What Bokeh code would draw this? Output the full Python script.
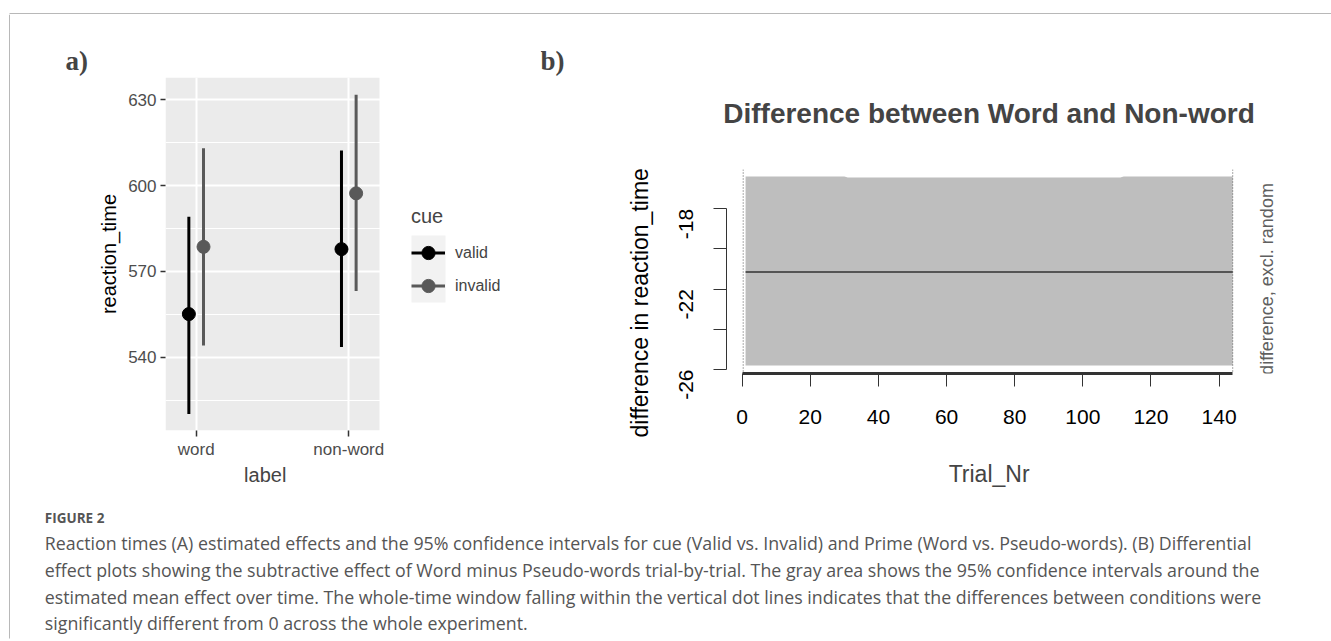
import math
from bokeh.plotting import figure
from bokeh.models import (Range1d, FixedTicker, Label, Legend, LegendItem, Span, Title,
                          BoxAnnotation, ColumnDataSource)
from bokeh.layouts import row, column
from bokeh.embed import file_html
from bokeh.resources import INLINE

# ---------------- data: panel a ----------------
labels = ["word", "non-word"]
cues = ["valid", "invalid"]
valid_rt = [555.1, 577.8]
valid_lo = [520.2, 543.6]
valid_hi = [589.1, 612.3]
invalid_rt = [578.6, 597.3]
invalid_lo = [544.1, 563.2]
invalid_hi = [613.1, 631.8]
rt_ticks = [540, 570, 600, 630]
rt_minor = [525, 555, 585, 615]

# ---------------- data: panel b ----------------
trial_nr = [1, 30, 31, 111, 112, 144]
diff_upper = [-16.39, -16.39, -16.44, -16.44, -16.39, -16.39]
diff_lower = [-25.80, -25.80, -25.80, -25.80, -25.80, -25.80]
diff_mean = [-21.15, -21.15, -21.15, -21.15, -21.15, -21.15]
sig_bounds = [0.3, 144.0]
trial_ticks = [0, 20, 40, 60, 80, 100, 120, 140]
diff_ticks = [-26, -22, -18]
diff_minor = [-24, -20]
diff_tick_text = {-26: "-26", -22: "-22", -18: "-18"}

caption_head = "FIGURE 2"
caption_lines = [
    "Reaction times (A) estimated effects and the 95% confidence intervals for cue (Valid vs. Invalid) and Prime (Word vs. Pseudo-words). (B) Differential",
    "effect plots showing the subtractive effect of Word minus Pseudo-words trial-by-trial. The gray area shows the 95% confidence intervals around the",
    "estimated mean effect over time. The whole-time window falling within the vertical dot lines indicates that the differences between conditions were",
    "significantly different from 0 across the whole experiment.",
]

SANS = "Liberation Sans"
SERIF = "Liberation Serif"


def lift(fs):
    # correction for where the renderer puts the text baseline
    return 0.36 * fs


def no_align(f):
    if "frame_align" in f.properties():
        f.frame_align = False
    return f


def blank(width, height, xr, yr):
    f = figure(width=width, height=height, x_range=xr, y_range=yr, output_backend="svg",
               toolbar_location=None, min_border=0, x_axis_type=None, y_axis_type=None)
    f.outline_line_color = None
    f.grid.visible = False
    return no_align(f)


# ---------------- panel a ----------------
cat_x = [i + 1 for i in range(len(labels))]          # category positions
dodge_w = 0.048
valid_x = [c - dodge_w for c in cat_x]
invalid_x = [c + dodge_w for c in cat_x]
PANEL_A_X = (0.799, 2.201)                            # ggplot panel extent (expanded)
PANEL_A_Y = (514.4, 637.8)

fah = blank(530, 63, Range1d(0, 530), Range1d(0, 63))
fah.add_layout(Label(x=55, y=7 + lift(27), x_units="screen", y_units="screen", text="a)",
                     text_font=SERIF, text_font_style="bold", text_font_size="27px",
                     text_baseline="alphabetic"))

fa = figure(width=530, height=385, x_range=Range1d(PANEL_A_X[0], 3.256),
            y_range=Range1d(*PANEL_A_Y), output_backend="svg", toolbar_location=None,
            min_border_left=155, min_border_right=0, min_border_top=0, min_border_bottom=32)
no_align(fa)
fa.background_fill_color = "white"
fa.border_fill_color = "white"
fa.outline_line_color = None
fa.add_layout(BoxAnnotation(left=PANEL_A_X[0], right=PANEL_A_X[1], bottom=PANEL_A_Y[0],
                            top=PANEL_A_Y[1], fill_color="#ebebeb", fill_alpha=1,
                            line_color=None, level="image"))

src_v = ColumnDataSource(dict(x=valid_x, rt=valid_rt, lo=valid_lo, hi=valid_hi))
src_i = ColumnDataSource(dict(x=invalid_x, rt=invalid_rt, lo=invalid_lo, hi=invalid_hi))
seg_v = fa.segment(x0="x", y0="lo", x1="x", y1="hi", source=src_v, line_color="black", line_width=3)
pt_v = fa.scatter(x="x", y="rt", source=src_v, size=13, fill_color="black", line_color="black")
seg_i = fa.segment(x0="x", y0="lo", x1="x", y1="hi", source=src_i, line_color="#595959", line_width=3)
pt_i = fa.scatter(x="x", y="rt", source=src_i, size=13, fill_color="#595959", line_color="#595959")

fa.ygrid.ticker = FixedTicker(ticks=rt_ticks, minor_ticks=rt_minor)
fa.ygrid.grid_line_color = "white"
fa.ygrid.grid_line_width = 2
fa.ygrid.minor_grid_line_color = "white"
fa.ygrid.minor_grid_line_width = 1
fa.xgrid.ticker = FixedTicker(ticks=cat_x)
fa.xgrid.grid_line_color = "white"
fa.xgrid.grid_line_width = 2

fa.yaxis.ticker = FixedTicker(ticks=rt_ticks)
fa.xaxis.ticker = FixedTicker(ticks=cat_x)
fa.xaxis.major_label_overrides = {c: lab for c, lab in zip(cat_x, labels)}
for ax in (fa.xaxis[0], fa.yaxis[0]):
    ax.axis_line_color = None
    ax.major_tick_line_color = "#333333"
    ax.major_tick_line_width = 1.5
    ax.major_tick_in = 0
    ax.minor_tick_line_color = None
    ax.major_label_text_font = SANS
    ax.major_label_text_font_size = "17px"
    ax.major_label_text_color = "#4d4d4d"
    ax.axis_label_text_font = SANS
    ax.axis_label_text_font_size = "20px"
    ax.axis_label_text_font_style = "normal"
    ax.axis_label_text_color = "black"
fa.yaxis.major_tick_out = 5
fa.yaxis.major_label_standoff = 4
fa.yaxis.axis_label = "reaction_time"
fa.yaxis.axis_label_standoff = 5
fa.xaxis.major_tick_out = 6
fa.xaxis.major_label_standoff = 3

fa.add_layout(BoxAnnotation(left=246, right=280, bottom=128, top=195,
                            left_units="screen", right_units="screen",
                            bottom_units="screen", top_units="screen",
                            fill_color="#f2f2f2", fill_alpha=1, line_color=None, level="glyph"))

legend = Legend(items=[LegendItem(label=cues[0], renderers=[seg_v, pt_v]),
                       LegendItem(label=cues[1], renderers=[seg_i, pt_i])],
                title="cue", location=(246, 128))
legend.title_text_font = SANS
legend.title_text_font_size = "20px"
legend.title_text_font_style = "normal"
legend.title_standoff = 8
legend.label_text_font = SANS
legend.label_text_font_size = "16px"
legend.glyph_width = 34
legend.glyph_height = 33
legend.label_height = 33
legend.label_standoff = 10
legend.spacing = 0
legend.padding = 0
legend.margin = 0
legend.background_fill_alpha = 0
legend.border_line_color = None
fa.add_layout(legend)

fal = blank(530, 38, Range1d(0, 530), Range1d(0, 38))
fal.add_layout(Label(x=254.7, y=18.3 + lift(20), x_units="screen", y_units="screen", text="label",
                     text_font=SANS, text_font_size="20px", text_align="center",
                     text_baseline="alphabetic"))

# ---------------- panel b header (panel letter and title) ----------------
fbh = blank(791, 140, Range1d(0, 791), Range1d(0, 140))
fbh.add_layout(Label(x=0, y=84 + lift(27), x_units="screen", y_units="screen", text="b)",
                     text_font=SERIF, text_font_style="bold", text_font_size="27px",
                     text_baseline="alphabetic"))
fbh.add_layout(Label(x=448.5, y=30.7 + lift(28), x_units="screen", y_units="screen",
                     text="Difference between Word and Non-word", text_font=SANS,
                     text_font_style="bold", text_font_size="28px", text_align="center",
                     text_baseline="alphabetic"))

# ---------------- panel b ----------------
fb = figure(width=791, height=296, x_range=Range1d(-4.6, 173.0), y_range=Range1d(-26.2, -16.045),
            output_backend="svg", toolbar_location=None,
            min_border_left=186, min_border_right=0, min_border_top=15, min_border_bottom=77)
no_align(fb)
fb.background_fill_color = "white"
fb.border_fill_color = "white"
fb.outline_line_color = None
fb.grid.visible = False

fb.varea(x=trial_nr, y1=diff_lower, y2=diff_upper, fill_color="#bebebe")
fb.line(x=trial_nr, y=diff_mean, line_color="#555555", line_width=2)
for s in sig_bounds:
    fb.add_layout(Span(location=s, dimension="height", line_color="#555555",
                       line_dash="1 2", line_width=1))

xb = fb.xaxis[0]
xb.ticker = FixedTicker(ticks=trial_ticks)
xb.bounds = (0, 144)
xb.axis_line_width = 3
xb.axis_line_color = "#333333"
xb.major_tick_out = 13
xb.major_tick_in = 0
xb.major_tick_line_color = "#333333"
xb.minor_tick_line_color = None
xb.major_label_standoff = 23
xb.major_label_text_font = SANS
xb.major_label_text_font_size = "21px"
xb.major_label_text_color = "black"

yb = fb.yaxis[0]
yb.ticker = FixedTicker(ticks=diff_ticks, minor_ticks=diff_minor)
yb.major_label_overrides = diff_tick_text
yb.bounds = (-26, -18)
yb.axis_line_color = "#333333"
yb.major_tick_out = 13
yb.major_tick_in = 0
yb.minor_tick_out = 13
yb.minor_tick_in = 0
yb.major_tick_line_color = "#333333"
yb.minor_tick_line_color = "#333333"
yb.major_label_orientation = math.pi / 2
yb.major_label_standoff = 27
yb.major_label_text_font = SANS
yb.major_label_text_font_size = "21px"
yb.major_label_text_color = "black"

fb.add_layout(Title(text="difference in reaction_time", align="left", offset=-64, standoff=34,
                    text_font=SANS, text_font_style="normal", text_font_size="23px",
                    text_color="black"), "left")

# right-hand label (inside the widened frame, to the right of the plot region)
fb.add_layout(Label(x=547 - lift(18), y=94.5, x_units="screen", y_units="screen",
                    text="difference, excl. random", text_font=SANS, text_font_size="18px",
                    text_color="#5f5f5f", angle=math.pi / 2, text_align="center",
                    text_baseline="alphabetic"))

# x-axis title of panel b, centred under the plot region
fbl = blank(791, 50, Range1d(0, 791), Range1d(0, 50))
fbl.add_layout(Label(x=448.6, y=18.3 + lift(23), x_units="screen", y_units="screen",
                     text="Trial_Nr", text_font=SANS, text_font_size="23px",
                     text_align="center", text_baseline="alphabetic"))

# ---------------- caption ----------------
fc = blank(1321, 141, Range1d(0, 1321), Range1d(0, 141))
fc.add_layout(Label(x=34.3, y=118.3 + lift(13.5), x_units="screen", y_units="screen",
                    text=caption_head, text_font="Open Sans", text_font_style="bold",
                    text_font_size="13.5px", text_color="#555555", text_baseline="alphabetic"))
for i, line in enumerate(caption_lines):
    fc.add_layout(Label(x=34.3, y=94.3 - i * 26.67 + lift(17.8) - 2.5, x_units="screen",
                        y_units="screen", text=line, text_font="Open Sans",
                        text_font_size="17.8px", text_color="#555555",
                        text_baseline="alphabetic"))

# ---------------- frame lines ----------------
ft = blank(1331, 14, Range1d(0, 1331), Range1d(0, 14))
ft.line(x=[9, 1331], y=[0.5, 0.5], line_color="#a0a0a0", line_width=1.5)

fl = blank(10, 627, Range1d(0, 10), Range1d(0, 627))
fl.line(x=[9.5, 9.5], y=[3, 627], line_color="#a0a0a0", line_width=1.5)

layout = column(ft, row(fl, column(row(column(fah, fa, fal), column(fbh, fb, fbl)), fc)))

with open("out.html", "w") as f:
    f.write(file_html(layout, INLINE))
